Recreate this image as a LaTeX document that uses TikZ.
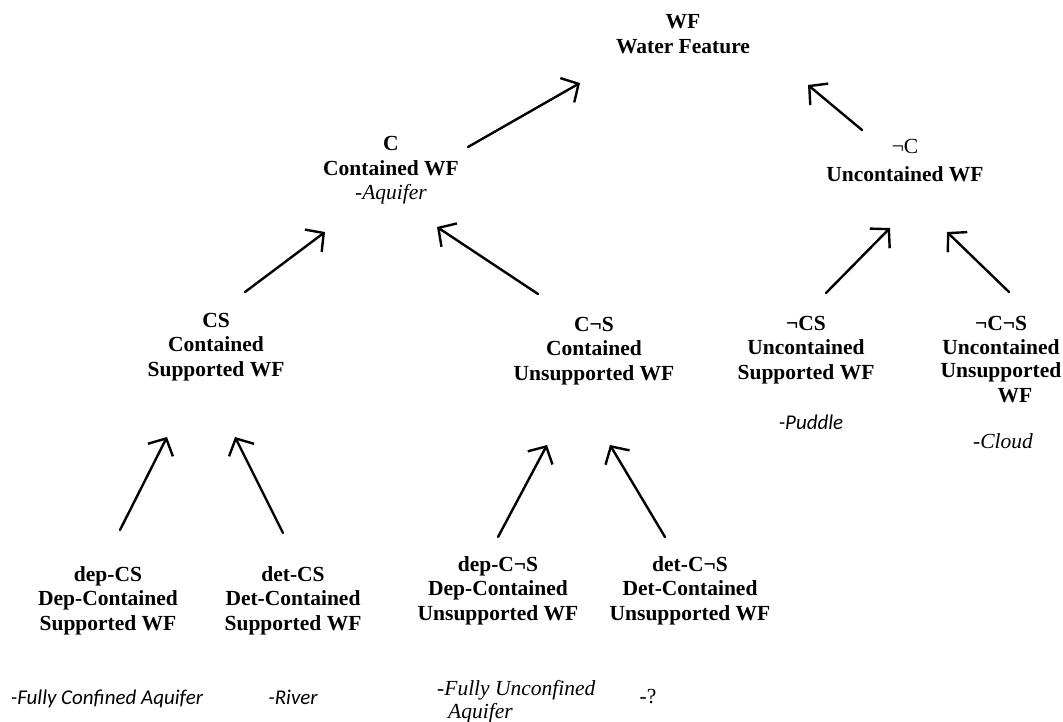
\documentclass[tikz,border=0pt]{standalone}
\usepackage{fontspec}
\setmainfont{Liberation Serif}
\newfontfamily\calibri{Carlito}
\usetikzlibrary{arrows.meta}
\tikzset{
  lbl/.style={anchor=base, inner sep=0pt, font=\fontsize{21.5}{24.5}\selectfont\bfseries},
  note/.style={anchor=base, inner sep=0pt, font=\fontsize{21.5}{24.5}\selectfont\itshape},
  cnote/.style={anchor=base, inner sep=0pt, font=\fontsize{21}{24}\selectfont\calibri\itshape},
  arr/.style={line width=2.4pt, line cap=round, -{Straight Barb[length=13pt, width=28pt, line width=2.4pt]}}
}
\newcommand{\stk}[1]{\begin{tabular}[t]{@{}c@{}}#1\end{tabular}}
\begin{document}
\begin{tikzpicture}[x=1pt, y=-1pt]
\useasboundingbox (0,0) rectangle (1063,722);
% labels
\node[lbl] (WF) at (683,29) {\stk{WF\\Water Feature}};
\node[lbl] (C) at (391,151) {\stk{C\\Contained WF\\[-0.5pt]{\mdseries\itshape -Aquifer}}};
\node[lbl] (NC) at (905,154) {\stk{{\mdseries ¬C}\\[3.5pt]Uncontained WF}};
\node[lbl] (CS) at (216,327) {\stk{CS\\Contained\\Supported WF}};
\node[lbl] (CNS) at (594,331) {\stk{C¬S\\Contained\\Unsupported WF}};
\node[lbl] (NCS) at (806,330) {\stk{¬CS\\Uncontained\\Supported WF}};
\node[lbl] (NCNS) at (1001,330) {\stk{¬C¬S\\Uncontained\\[-1.5pt]Unsupported\\[0.5pt]\hspace{28pt}WF}};
\node[lbl] (depCS) at (108,581) {\stk{dep-CS\\Dep-Contained\\Supported WF}};
\node[lbl] (detCS) at (293,581) {\stk{det-CS\\Det-Contained\\Supported WF}};
\node[lbl] (depCNS) at (498,571) {\stk{dep-C¬S\\Dep-Contained\\Unsupported WF}};
\node[lbl] (detCNS) at (690,571) {\stk{det-C¬S\\Det-Contained\\Unsupported WF}};
% examples
\node[cnote] (puddle) at (811,429) {-Puddle};
\node[note] (cloud) at (1003,448) {-Cloud};
\node[cnote] (fca) at (107,704) {-Fully Confined Aquifer};
\node[cnote] (river) at (293,704) {-River};
\node[note, anchor=base west] (fua) at (437,695) {\begin{tabular}[t]{@{}l@{}}-Fully Unconfined\\[-1pt]\hspace{11pt}Aquifer\end{tabular}};
\node[note, font=\fontsize{21.5}{24.5}\selectfont] (q) at (648,703) {-?};
% connector ends
\coordinate (C-out) at (468,147);   \coordinate (WF-in1) at (580,83);
\coordinate (NC-out) at (862,130);  \coordinate (WF-in2) at (808,85);
\coordinate (CS-out) at (245,292);  \coordinate (C-in1) at (325,232);
\coordinate (CNS-out) at (538,294); \coordinate (C-in2) at (437,227);
\coordinate (NCS-out) at (826,293); \coordinate (NC-in1) at (890,228);
\coordinate (NCNS-out) at (1009,292); \coordinate (NC-in2) at (947,232);
\coordinate (depCS-out) at (120,530); \coordinate (CS-in1) at (167,437);
\coordinate (detCS-out) at (283,533); \coordinate (CS-in2) at (235,437);
\coordinate (depCNS-out) at (498,537); \coordinate (CNS-in1) at (547,445);
\coordinate (detCNS-out) at (665,537); \coordinate (CNS-in2) at (610,445);
% connectors
\draw[arr] (C-out) -- (WF-in1);
\draw[arr] (NC-out) -- (WF-in2);
\draw[arr] (CS-out) -- (C-in1);
\draw[arr] (CNS-out) -- (C-in2);
\draw[arr] (NCS-out) -- (NC-in1);
\draw[arr] (NCNS-out) -- (NC-in2);
\draw[arr] (depCS-out) -- (CS-in1);
\draw[arr] (detCS-out) -- (CS-in2);
\draw[arr] (depCNS-out) -- (CNS-in1);
\draw[arr] (detCNS-out) -- (CNS-in2);
\end{tikzpicture}
\end{document}
